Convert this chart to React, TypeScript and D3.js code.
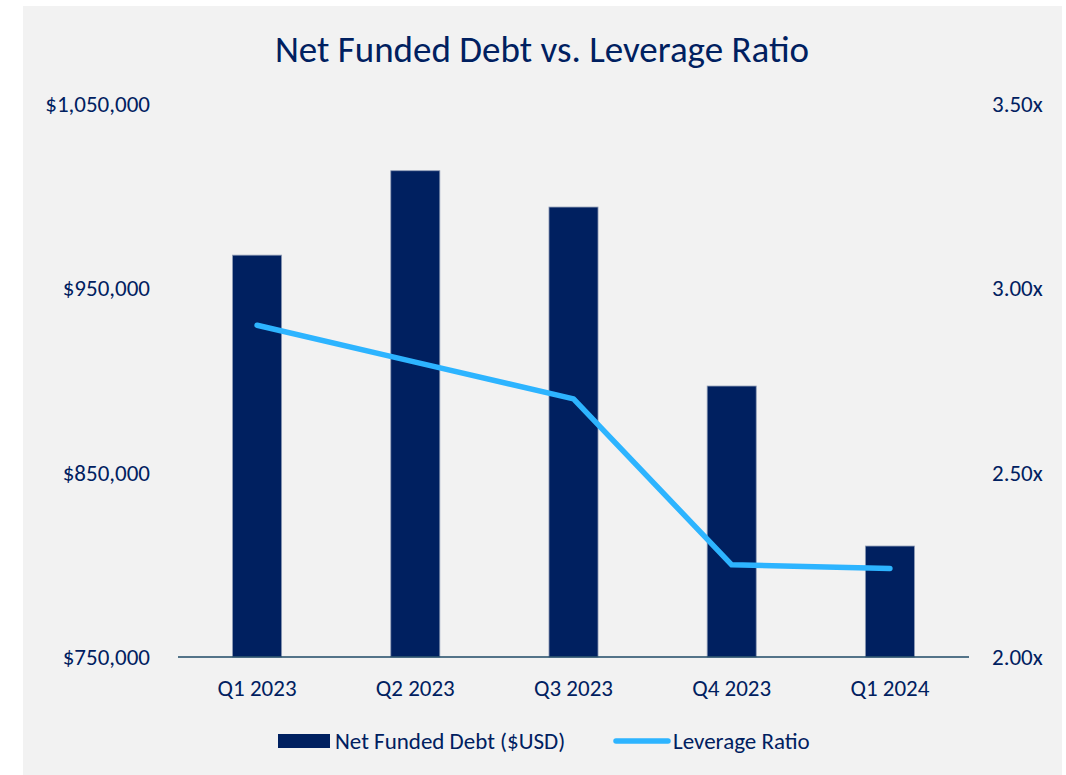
import React, { useEffect, useRef } from "react";
import * as d3 from "d3";

const quarters = ["Q1 2023", "Q2 2023", "Q3 2023", "Q4 2023", "Q1 2024"];
const netFundedDebt = [968000, 1013800, 994100, 897000, 810200];
const leverageRatio = [2.9, 2.8, 2.7, 2.25, 2.24];
const debtTicks = [750000, 850000, 950000, 1050000];
const ratioTicks = [2.0, 2.5, 3.0, 3.5];

const W = 1066;
const H = 775;
const NAVY = "#002060";
const LINE = "#2db4ff";
const FONT = "Carlito, Lato, 'Open Sans', sans-serif";
const FS = 23;

export default function App() {
  const ref = useRef<SVGSVGElement>(null);

  useEffect(() => {
    const svg = d3.select(ref.current);
    svg.selectAll("*").remove();

    const margin = { top: 104, right: 97, bottom: 118, left: 178 };
    const x = d3.scaleBand().domain(quarters).range([margin.left, W - margin.right]).paddingInner(0.69).paddingOuter(0.345);
    const yL = d3.scaleLinear().domain([750000, 1050000]).range([H - margin.bottom, margin.top]);
    const yR = d3.scaleLinear().domain([2.0, 3.5]).range([H - margin.bottom, margin.top]);

    // backdrop
    svg.append("rect").attr("x", 23).attr("y", 6).attr("width", 1039).attr("height", H - 6).attr("fill", "#f2f2f2");

    svg.append("text")
      .attr("x", 542).attr("y", 62)
      .attr("text-anchor", "middle")
      .attr("font-size", 37)
      .attr("fill", NAVY)
      .text("Net Funded Debt vs. Leverage Ratio");

    // left axis labels
    svg.append("g").selectAll("text").data(debtTicks).join("text")
      .attr("x", 150).attr("y", d => yL(d)).attr("dy", "0.35em")
      .attr("text-anchor", "end").attr("font-size", FS).attr("fill", NAVY)
      .text(d => "$" + d3.format(",")(d));

    // right axis labels
    svg.append("g").selectAll("text").data(ratioTicks).join("text")
      .attr("x", 992).attr("y", d => yR(d)).attr("dy", "0.35em")
      .attr("text-anchor", "start").attr("font-size", FS).attr("fill", NAVY)
      .text(d => d3.format(".2f")(d) + "x");

    // bars
    svg.append("g").selectAll("rect").data(quarters).join("rect")
      .attr("x", d => x(d)!)
      .attr("width", x.bandwidth())
      .attr("y", (d, i) => yL(netFundedDebt[i]))
      .attr("height", (d, i) => yL(750000) - yL(netFundedDebt[i]))
      .attr("fill", NAVY)
      .attr("stroke", "#8e9bb5").attr("stroke-width", 0.8);

    // baseline
    svg.append("line")
      .attr("x1", margin.left).attr("x2", W - margin.right)
      .attr("y1", yL(750000)).attr("y2", yL(750000))
      .attr("stroke", "#1f4a66").attr("stroke-width", 1.5);

    // x labels
    svg.append("g").selectAll("text").data(quarters).join("text")
      .attr("x", d => x(d)! + x.bandwidth() / 2).attr("y", 696)
      .attr("text-anchor", "middle").attr("font-size", FS).attr("fill", NAVY)
      .text(d => d);

    // leverage line
    const line = d3.line<number>()
      .x((d, i) => x(quarters[i])! + x.bandwidth() / 2)
      .y(d => yR(d));
    svg.append("path").datum(leverageRatio)
      .attr("d", line)
      .attr("fill", "none").attr("stroke", LINE).attr("stroke-width", 5.5)
      .attr("stroke-linecap", "round").attr("stroke-linejoin", "round");

    // legend
    const lg = svg.append("g");
    lg.append("rect").attr("x", 278).attr("y", 734).attr("width", 52).attr("height", 14).attr("fill", NAVY);
    lg.append("text").attr("x", 335).attr("y", 741).attr("dy", "0.35em").attr("font-size", FS).attr("fill", NAVY)
      .text("Net Funded Debt ($USD)");
    lg.append("line").attr("x1", 616).attr("x2", 668).attr("y1", 741).attr("y2", 741)
      .attr("stroke", LINE).attr("stroke-width", 5.5).attr("stroke-linecap", "round");
    lg.append("text").attr("x", 673).attr("y", 741).attr("dy", "0.35em").attr("font-size", FS).attr("fill", NAVY)
      .text("Leverage Ratio");
  }, []);

  return (
    <svg ref={ref} width={W} height={H} style={{ display: "block", position: "absolute", left: 0, top: 0, fontFamily: FONT }} />
  );
}
